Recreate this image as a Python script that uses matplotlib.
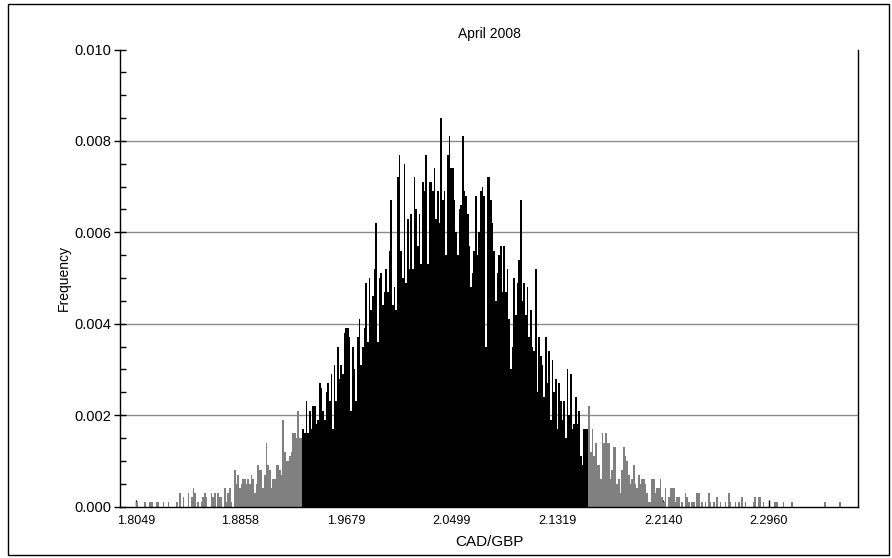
import matplotlib
matplotlib.use("Agg")
import matplotlib.pyplot as plt
from matplotlib.ticker import MultipleLocator, FixedLocator, FormatStrFormatter
import numpy as np

plt.rcParams['font.family'] = ['Liberation Sans', 'DejaVu Sans']

# histogram of simulated CAD/GBP rates, counts per bin out of 10000 draws
n_draws = 10000
bin_start = 1.8049
bin_width = 0.00129

# lower tail (outside the 95% band), grey
counts_left = [
    1, 0, 0, 0, 0, 1, 0, 0, 1, 1, 0, 0, 1, 1, 0, 0, 1, 0, 0, 1,
    0, 0, 0, 0, 1, 0, 3, 0, 2, 0, 0, 3, 0, 2, 4, 3, 0, 1, 0, 1,
    2, 3, 2, 0, 0, 3, 2, 3, 0, 3, 2, 2, 0, 4, 1, 3, 4, 1, 0, 8,
    5, 7, 4, 5, 6, 6, 5, 6, 5, 7, 6, 3, 5, 9, 8, 8, 4, 7, 14, 9,
    8, 4, 6, 6, 9, 9, 8, 7, 19, 12, 10, 10, 11, 12, 16, 16, 15, 21, 15, 15,
]
# central 95% band, black
counts_core = [
    17, 16, 23, 16, 21, 17, 22, 22, 18, 19,
    27, 26, 21, 19, 25, 27, 23, 29, 17, 31,
    23, 35, 28, 31, 29, 38, 39, 39, 37, 21,
    35, 30, 23, 37, 41, 31, 35, 39, 49, 36,
    50, 43, 46, 52, 62, 36, 50, 51, 44, 47,
    52, 47, 56, 67, 44, 48, 43, 72, 77, 56,
    50, 75, 49, 63, 52, 64, 52, 72, 65, 57,
    64, 53, 71, 69, 77, 53, 71, 71, 69, 74,
    63, 69, 62, 85, 67, 69, 55, 77, 81, 74,
    74, 67, 60, 55, 65, 66, 81, 69, 68, 64,
    57, 48, 51, 56, 68, 55, 60, 69, 70, 68,
    35, 72, 72, 67, 62, 56, 45, 51, 55, 57,
    47, 57, 47, 52, 41, 30, 35, 50, 42, 49,
    54, 67, 45, 49, 42, 48, 37, 43, 35, 34,
    52, 25, 37, 33, 31, 24, 37, 27, 34, 19,
    32, 25, 28, 17, 27, 23, 19, 23, 15, 30,
    20, 29, 17, 18, 24, 18, 21, 11, 9, 17,
    17, 17,
]
# upper tail, grey
counts_right = [
    22, 12, 17, 11, 14, 9, 9, 6, 16, 14, 16, 14, 14, 6, 8, 13, 13, 5, 6, 3,
    8, 13, 11, 10, 7, 5, 6, 9, 5, 4, 7, 5, 6, 6, 5, 3, 1, 1, 6, 6,
    3, 4, 4, 6, 2, 1, 4, 0, 2, 4, 4, 4, 1, 2, 2, 0, 1, 0, 3, 2,
    1, 0, 1, 1, 0, 3, 3, 0, 1, 0, 1, 0, 3, 1, 0, 1, 0, 2, 0, 1,
    0, 0, 1, 0, 3, 1, 0, 0, 1, 0, 1, 0, 2, 0, 1, 0, 0, 0, 0, 1,
    2, 0, 2, 2, 0, 1, 0, 0, 0, 0, 0, 0, 1, 1, 0, 0, 0, 1, 0, 0,
    0, 0, 1, 0, 0, 0, 0, 0, 0, 0, 0, 0, 0, 0, 0, 0, 0, 0, 0, 0,
    0, 0, 1, 0, 0, 0, 0, 0, 0, 0, 0, 1,
]

x_ticks = [1.8049, 1.8858, 1.9679, 2.0499, 2.1319, 2.2140, 2.2960]
x_tick_labels = ["1.8049", "1.8858", "1.9679", "2.0499", "2.1319", "2.2140", "2.2960"]
grid_levels = [0.002, 0.004, 0.006, 0.008]

fig = plt.figure(figsize=(8.92, 5.58), dpi=100)
ax = fig.add_axes([120 / 892, 51.5 / 558, 738 / 892, 457 / 558])

# outer frame
fig.patches.append(plt.Rectangle((8 / 892, 3 / 558), 881 / 892, 551 / 558,
                                 transform=fig.transFigure, fill=False,
                                 edgecolor='black', linewidth=1.0))

start = 0
for counts, colour in [(counts_left, '#808080'), (counts_core, 'black'),
                       (counts_right, '#808080')]:
    idx = np.arange(start, start + len(counts))
    centres = bin_start + (idx + 0.5) * bin_width
    freq = np.array(counts) / n_draws
    ax.bar(centres, freq, width=bin_width, color=colour, linewidth=0,
           antialiased=False, zorder=2)
    start += len(counts)

for g in grid_levels:
    ax.axhline(g, color='#8c8c8c', linewidth=1.0, zorder=1)

ax.set_xlim(1.7925, 2.3651)
ax.set_ylim(0, 0.010)

ax.yaxis.set_major_locator(MultipleLocator(0.002))
ax.yaxis.set_minor_locator(MultipleLocator(0.0005))
ax.yaxis.set_major_formatter(FormatStrFormatter('%.3f'))
ax.xaxis.set_major_locator(FixedLocator(x_ticks))
ax.set_xticklabels(x_tick_labels)

ax.spines['top'].set_visible(False)
for s in ['left', 'bottom', 'right']:
    ax.spines[s].set_linewidth(1.0)

ax.tick_params(axis='x', direction='in', length=5, width=1, labelsize=9, pad=6)
ax.tick_params(axis='y', which='major', direction='inout', length=8, width=1,
               labelsize=10.5, pad=2)
ax.tick_params(axis='y', which='minor', direction='in', length=4, width=1)

ax.set_title('April 2008', fontsize=10, pad=8)
ax.set_xlabel('CAD/GBP', fontsize=11, labelpad=6)
ax.set_ylabel('Frequency', fontsize=10, labelpad=3)

fig.savefig('out.png', dpi=100)
